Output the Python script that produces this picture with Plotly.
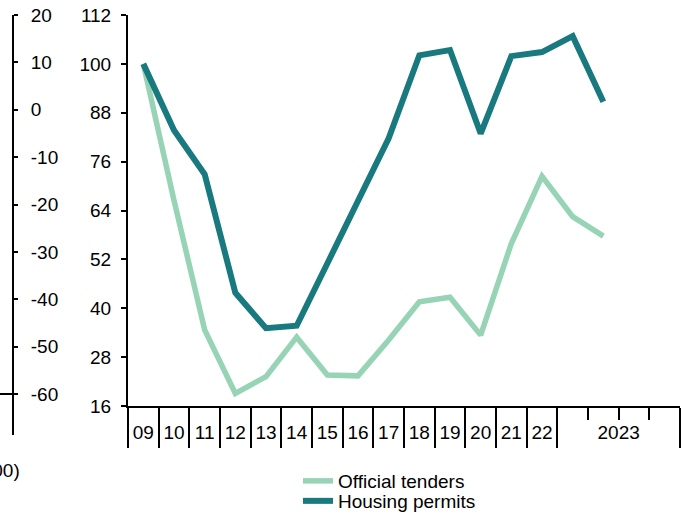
import plotly.graph_objects as go

# ---- data ----
periods = ["09", "10", "11", "12", "13", "14", "15", "16", "17", "18",
           "19", "20", "21", "22", "2023a", "2023b"]
official_tenders = [100, 66.5, 34.7, 19.1, 23.2, 32.9, 23.6, 23.4, 32.2, 41.6,
                    42.7, 33.4, 55.9, 72.4, 62.5, 57.7]
housing_permits = [100, 83.7, 72.9, 43.8, 35.1, 35.7, 51.0, 66.1, 81.7, 102.1,
                   103.4, 82.9, 101.9, 102.9, 106.8, 90.7]
year_labels = ["09", "10", "11", "12", "13", "14", "15", "16", "17", "18",
               "19", "20", "21", "22", "2023"]
right_ticks = [16, 28, 40, 52, 64, 76, 88, 100, 112]
left_ticks = [20, 10, 0, -10, -20, -30, -40, -50, -60]
left_tick_text = ["20", "10", "0", "-10", "-20", "-30", "-40", "-50", "-60"]

# slot layout: 14 yearly slots then a 4-slot block for 2023
n_slots = 18
xpos = [i + 0.5 for i in range(len(periods))]
sep_vals = list(range(0, 15)) + [18]
minor_vals = [15, 16, 17]
label_pos = [i + 0.5 for i in range(14)] + [16]

DARK = "#18797f"
LIGHT = "#97d3b5"
FONT = "Arial, Liberation Sans, sans-serif"

fig = go.Figure()
fig.add_trace(go.Scatter(x=xpos, y=official_tenders, mode="lines",
                         name="Official tenders", xaxis="x", yaxis="y",
                         line=dict(color=LIGHT, width=5.5), legend="legend"))
fig.add_trace(go.Scatter(x=xpos, y=housing_permits, mode="lines",
                         name="Housing permits", xaxis="x2", yaxis="y",
                         line=dict(color=DARK, width=6), legend="legend2"))
# empty trace so the secondary (left) scale is drawn
fig.add_trace(go.Scatter(x=[None], y=[None], xaxis="x", yaxis="y2",
                         showlegend=False, hoverinfo="skip"))

W, H = 685, 514
ml, mr, mt, mb = 13, 5, 15, 108
pw = W - ml - mr
ph = H - mt - mb


def px_x(p):
    return (p - ml) / pw


def px_y(p):
    return (H - mb - p) / ph


fig.update_layout(
    width=W, height=H,
    margin=dict(l=ml, r=mr, t=mt, b=mb, autoexpand=False),
    paper_bgcolor="white", plot_bgcolor="white",
    font=dict(family=FONT, size=19, color="black"),
    xaxis=dict(domain=[px_x(128), 1], range=[0, n_slots], tickmode="array",
               tickvals=sep_vals, ticktext=[""] * len(sep_vals),
               ticks="outside", ticklen=40, tickwidth=2, tickcolor="black",
               showline=True, linewidth=2, linecolor="black",
               showgrid=False, zeroline=False, anchor="y",
               minor=dict(tickvals=minor_vals, ticks="outside", ticklen=12,
                          tickwidth=2, tickcolor="black", showgrid=False)),
    xaxis2=dict(overlaying="x", anchor="y", side="bottom", range=[0, n_slots],
                tickmode="array", tickvals=label_pos, ticktext=year_labels,
                ticks="outside", ticklen=9, tickcolor="rgba(0,0,0,0)",
                tickfont=dict(color="black"),
                showline=False, showgrid=False, zeroline=False),
    yaxis=dict(range=[16, 112], tickmode="array", tickvals=right_ticks,
               ticks="outside", ticklen=5, tickwidth=2, tickcolor="black",
               ticklabelstandoff=6, tickfont=dict(color="black"),
               showline=True, linewidth=2, linecolor="black",
               showgrid=False, zeroline=False, anchor="x"),
    yaxis2=dict(overlaying="y", anchor="free", position=0, side="right",
                range=[20 - 391 * 80 / 379, 20], tickmode="array",
                tickvals=left_ticks, ticktext=left_tick_text,
                ticks="outside", ticklen=4, tickwidth=2,
                tickcolor="black", ticklabelstandoff=9,
                tickfont=dict(color="black"),
                showline=True, linewidth=2, linecolor="black",
                showgrid=False, zeroline=False,
                minor=dict(tickvals=[-60], ticks="inside", ticklen=13,
                           tickwidth=2, tickcolor="black", showgrid=False)),
    legend=dict(x=px_x(298), y=px_y(481), xanchor="left", yanchor="middle",
                bgcolor="rgba(0,0,0,0)", font=dict(size=19, color="black")),
    legend2=dict(x=px_x(298), y=px_y(501), xanchor="left", yanchor="middle",
                 bgcolor="rgba(0,0,0,0)", font=dict(size=19, color="black")),
    showlegend=True,
    shapes=[
        dict(type="line", xref="paper", yref="paper", x0=0, x1=0,
             y0=0, y1=px_y(435), line=dict(color="black", width=2)),
    ],
    annotations=[
        dict(text="(2009=100)", xref="paper", yref="paper", x=px_x(22),
             y=px_y(470), xanchor="right", yanchor="middle", showarrow=False,
             font=dict(size=19, color="black")),
    ],
)

fig.write_html("out.html", config={"displayModeBar": False},
               post_script="document.body.style.margin='0';")
